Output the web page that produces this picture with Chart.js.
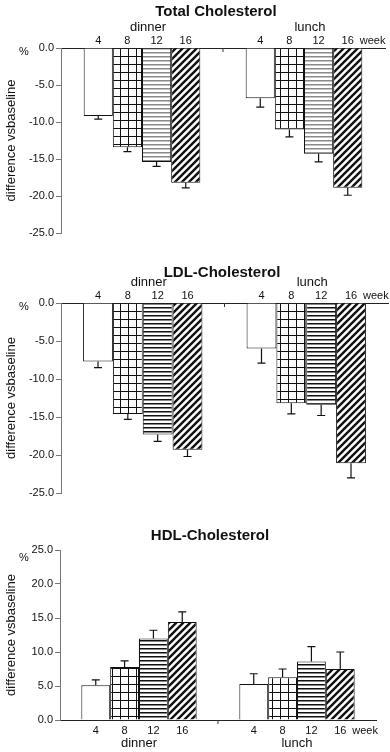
<!DOCTYPE html>
<html>
<head>
<meta charset="utf-8">
<script src="https://cdn.jsdelivr.net/npm/chart.js@4.4.0/dist/chart.umd.min.js"></script>
<style>
  body { margin: 0; background: #fff; }
  #wrap { position: relative; width: 390px; height: 752px; overflow: hidden; font-family: "Liberation Sans", Arial, sans-serif; }
  canvas { position: absolute; left: 0; }
  .ttl { position: absolute; font-weight: bold; font-size: 15px; color: #111; transform: translate(-50%, -50%); white-space: nowrap; }
</style>
</head>
<body>
<div id="wrap">
  <canvas id="c1" width="390" height="248" style="top:0"></canvas>
  <canvas id="c2" width="390" height="253" style="top:255px"></canvas>
  <canvas id="c3" width="390" height="212" style="top:540px"></canvas>
  <div class="ttl" style="left:216px;top:10px">Total Cholesterol</div>
  <div class="ttl" style="left:222px;top:271px">LDL-Cholesterol</div>
  <div class="ttl" style="left:210px;top:534px">HDL-Cholesterol</div>
</div>
<script>
const meals = ['dinner', 'lunch'];
const weeks = ['4', '8', '12', '16'];

// % difference vs baseline, one value per week (4, 8, 12, 16)
const tcDinner = [-9.2, -13.4, -15.4, -18.2];
const tcLunch = [-6.8, -11.0, -14.3, -18.9];
const tcDinnerErr = [0.4, 0.6, 0.6, 0.7];
const tcLunchErr = [1.2, 1.0, 1.1, 1.0];

const ldlDinner = [-7.7, -14.6, -17.3, -19.3];
const ldlLunch = [-6.0, -13.2, -13.4, -21.1];
const ldlDinnerErr = [0.8, 0.7, 0.9, 0.9];
const ldlLunchErr = [1.9, 1.4, 1.4, 1.9];

const hdlDinner = [5.1, 7.8, 12.0, 14.4];
const hdlLunch = [5.3, 6.3, 8.6, 7.5];
const hdlDinnerErr = [0.8, 0.9, 1.2, 1.5];
const hdlLunchErr = [1.5, 1.2, 2.2, 2.5];

const fam = '"Liberation Sans", Arial, sans-serif';
const ink = '#111';

function makePattern(kind, color) {
  const c = document.createElement('canvas');
  const ctx = c.getContext('2d');
  if (kind === 'plain') {
    return '#fff';
  }
  if (kind === 'grid') {
    c.width = 8; c.height = 8;
    ctx.fillStyle = '#fff'; ctx.fillRect(0, 0, 8, 8);
    ctx.fillStyle = color;
    ctx.fillRect(0, 0, 1, 8);
    ctx.fillRect(0, 0, 8, 1);
  } else if (kind === 'hlines') {
    c.width = 4; c.height = 4;
    ctx.fillStyle = '#fff'; ctx.fillRect(0, 0, 4, 4);
    ctx.fillStyle = color;
    ctx.fillRect(0, 0, 4, 1.5);
  } else if (kind === 'diag') {
    const s = 7;
    c.width = s; c.height = s;
    ctx.fillStyle = '#fff'; ctx.fillRect(0, 0, s, s);
    ctx.strokeStyle = color; ctx.lineWidth = 2.4;
    ctx.beginPath();
    ctx.moveTo(0, s); ctx.lineTo(s, 0);
    ctx.moveTo(-1, 1); ctx.lineTo(1, -1);
    ctx.moveTo(s - 1, s + 1); ctx.lineTo(s + 1, s - 1);
    ctx.stroke();
  }
  return ctx.createPattern(c, 'repeat');
}

const extras = {
  id: 'extras',
  afterDatasetsDraw(chart) {
    const ctx = chart.ctx;
    const xs = chart.scales.x, ys = chart.scales.y;
    const area = chart.chartArea;
    const top = xs.options.position === 'top';
    const axisY = top ? area.top : area.bottom;
    ctx.save();

    // one-sided error bars
    ctx.strokeStyle = ink;
    ctx.lineWidth = 1.2;
    chart.data.datasets.forEach((ds, i) => {
      chart.getDatasetMeta(i).data.forEach((bar, j) => {
        const v = ds.data[j];
        const end = v < 0 ? v - ds.err[j] : v + ds.err[j];
        const yEnd = ys.getPixelForValue(end);
        ctx.beginPath();
        ctx.moveTo(bar.x, bar.y);
        ctx.lineTo(bar.x, yEnd);
        ctx.moveTo(bar.x - 4, yEnd);
        ctx.lineTo(bar.x + 4, yEnd);
        ctx.stroke();
      });
    });

    // week numbers over / under each bar
    ctx.fillStyle = ink;
    ctx.font = '11px ' + fam;
    ctx.textBaseline = 'middle';
    ctx.textAlign = 'center';
    const wy = top ? axisY - 7 : axisY + 10.5;
    let last = null;
    chart.data.datasets.forEach((ds, i) => {
      chart.getDatasetMeta(i).data.forEach(bar => {
        ctx.fillText(ds.label, bar.x, wy);
      });
      last = chart.getDatasetMeta(i).data[1];
    });
    ctx.textAlign = 'left';
    ctx.fillText('week', last.x + 12, wy);

    // percent sign next to the first y tick
    ctx.textAlign = 'center';
    ctx.fillText('%', 24, area.top + (top ? 4 : 8));

    // small tick between the two groups
    const xm = (xs.getPixelForValue(0) + xs.getPixelForValue(1)) / 2;
    ctx.strokeStyle = '#333';
    ctx.lineWidth = 1;
    ctx.beginPath();
    ctx.moveTo(xm, axisY);
    ctx.lineTo(xm, axisY + 4);
    ctx.stroke();
    ctx.restore();
  }
};

function drawPanel(id, p) {
  const fills = [
    makePattern('plain'),
    makePattern('grid', ink),
    makePattern('hlines', p.stripe),
    makePattern('diag', ink)
  ];
  const datasets = weeks.map((w, i) => ({
    label: w,
    data: [p.dinner[i], p.lunch[i]],
    err: [p.dinnerErr[i], p.lunchErr[i]],
    backgroundColor: fills[i],
    borderColor: ink,
    borderWidth: 1,
    categoryPercentage: p.catPct,
    barPercentage: 1
  }));

  new Chart(document.getElementById(id), {
    type: 'bar',
    data: { labels: meals, datasets: datasets },
    options: {
      responsive: false,
      animation: false,
      devicePixelRatio: 1,
      layout: { padding: { left: 0, right: p.padRight, top: p.padTop, bottom: p.padBottom } },
      plugins: { legend: { display: false }, tooltip: { enabled: false } },
      scales: {
        x: {
          position: p.top ? 'top' : 'bottom',
          offset: true,
          grid: { display: true, drawOnChartArea: false, drawTicks: false },
          border: { color: '#222', width: 1 },
          ticks: {
            color: ink,
            font: { size: 13, family: fam },
            padding: p.top ? 13 : 16,
            labelOffset: p.top ? 6 : 0
          },
          afterFit: s => { s.height = p.xHeight; }
        },
        y: {
          min: p.min,
          max: p.max,
          grid: { drawOnChartArea: false, drawTicks: true, tickLength: 5, color: '#777' },
          border: { color: '#777', width: 1 },
          ticks: {
            stepSize: 5,
            color: ink,
            padding: 2,
            font: { size: 11, family: fam },
            callback: v => v.toFixed(1)
          },
          title: {
            display: true,
            text: 'difference vsbaseline',
            color: ink,
            font: { size: 13, family: fam },
            padding: { top: 4, bottom: 0 }
          },
          afterFit: s => { s.width = p.yWidth; }
        }
      }
    },
    plugins: [extras]
  });
}

drawPanel('c1', {
  dinner: tcDinner, lunch: tcLunch, dinnerErr: tcDinnerErr, lunchErr: tcLunchErr,
  min: -25, max: 0, top: true, stripe: '#8a8a8a', catPct: 0.72,
  xHeight: 48, yWidth: 61, padRight: 5, padTop: 0, padBottom: 15
});

drawPanel('c2', {
  dinner: ldlDinner, lunch: ldlLunch, dinnerErr: ldlDinnerErr, lunchErr: ldlLunchErr,
  min: -25, max: 0, top: true, stripe: ink, catPct: 0.73,
  xHeight: 48, yWidth: 61, padRight: 2, padTop: 0, padBottom: 15
});

drawPanel('c3', {
  dinner: hdlDinner, lunch: hdlLunch, dinnerErr: hdlDinnerErr, lunchErr: hdlLunchErr,
  min: 0, max: 25, top: false, stripe: ink, catPct: 0.73,
  xHeight: 32, yWidth: 60, padRight: 14, padTop: 10, padBottom: 0
});
</script>
</body>
</html>
